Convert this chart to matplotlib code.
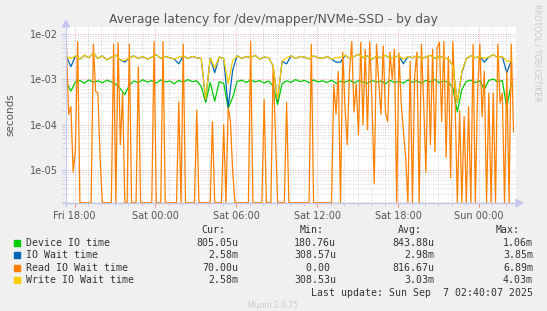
import numpy as np
import matplotlib
matplotlib.use('Agg')
import matplotlib.pyplot as plt
from matplotlib.patches import Polygon, Rectangle
from matplotlib.lines import Line2D
from matplotlib.ticker import MultipleLocator, LogLocator, FixedLocator, FixedFormatter, NullFormatter

# ---------------- data (values in milliseconds) ----------------
# 20-minute samples starting at Fri 17:24
device_io = [0.85, 0.55, 0.88, 0.95, 0.82, 0.97, 0.86, 0.93, 0.84, 0.96,
             0.88, 0.78, 0.62, 0.46, 0.75, 0.92, 0.85, 0.98, 0.87, 0.94,
             0.83, 0.97, 0.88, 0.92, 0.80, 0.95, 0.86, 0.99, 0.89, 0.93,
             0.70, 0.31, 0.85, 0.33, 0.88, 0.82, 0.23, 0.40, 0.90, 0.96,
             0.85, 0.97, 0.88, 0.94, 0.83, 0.92, 0.70, 0.28, 0.80, 0.93,
             0.86, 0.99, 0.89, 0.95, 0.84, 0.97, 0.88, 0.93, 0.85, 0.96,
             0.82, 0.91, 0.86, 0.97, 0.83, 0.94, 0.88, 0.81, 0.95, 0.87,
             0.92, 0.80, 0.96, 0.85, 0.90, 0.83, 0.97, 0.86, 0.93, 0.82,
             0.95, 0.88, 0.99, 0.84, 0.92, 0.87, 0.65, 0.19, 0.60, 0.90,
             0.96, 0.85, 0.93, 0.60, 0.95, 1.02, 0.88, 0.94, 0.24, 0.81]

io_wait = [3.2, 1.9, 3.3, 2.8, 3.4, 3.0, 3.8, 2.9, 3.3, 2.7,
           3.1, 3.4, 2.7, 2.4, 3.0, 3.3, 2.9, 3.2, 2.8, 3.1,
           3.5, 2.9, 3.2, 3.0, 2.8, 2.2, 3.3, 2.9, 3.2, 3.0,
           2.9, 0.34, 3.0, 1.4, 3.1, 2.9, 0.24, 1.6, 3.3, 2.9,
           3.2, 3.0, 3.4, 2.8, 3.1, 3.0, 2.0, 0.34, 2.5, 2.2,
           3.3, 2.9, 3.2, 3.1, 2.8, 3.3, 3.0, 2.9, 3.2, 2.8,
           2.4, 2.4, 3.4, 2.9, 3.2, 3.6, 3.0, 3.3, 2.8, 3.2,
           3.0, 3.4, 2.9, 3.1, 3.3, 2.2, 3.2, 3.0, 3.3, 2.9,
           3.1, 3.4, 2.9, 3.2, 3.0, 2.8, 2.0, 0.31, 1.4, 2.9,
           3.3, 3.0, 3.2, 2.4, 3.1, 3.5, 3.0, 3.2, 1.4, 2.6]

write_io = [3.2, 2.9, 3.3, 2.8, 3.4, 3.0, 3.8, 2.9, 3.3, 2.7,
            3.1, 3.4, 2.7, 2.6, 3.0, 3.3, 2.9, 3.2, 2.8, 3.1,
            3.5, 2.9, 3.2, 3.0, 2.8, 3.1, 3.3, 2.9, 3.2, 3.0,
            2.9, 0.36, 3.0, 1.8, 3.1, 2.9, 0.8, 2.6, 3.3, 2.9,
            3.2, 3.0, 3.4, 2.8, 3.1, 3.0, 2.0, 0.36, 2.5, 3.0,
            3.3, 2.9, 3.2, 3.1, 2.8, 3.3, 3.0, 2.9, 3.2, 2.8,
            3.0, 3.1, 3.4, 2.9, 3.2, 3.6, 3.0, 3.3, 2.8, 3.2,
            3.0, 3.4, 2.9, 3.1, 3.3, 2.8, 3.2, 3.0, 3.3, 2.9,
            3.1, 3.4, 2.9, 3.2, 3.0, 2.8, 2.0, 0.31, 1.5, 2.9,
            3.3, 3.0, 3.2, 2.9, 3.1, 3.5, 3.0, 3.2, 2.5, 2.6]

# 10-minute samples starting at Fri 17:24
read_io = [6.0, 0.17, 0.25, 0.009, 0.028, 6.8, 0, 0, 0, 0,
           0, 0, 6.0, 0.54, 0.5, 0.018, 0, 0, 0, 0,
           0, 6.0, 0, 6.5, 0.036, 0.5, 0, 0, 6.0, 0,
           0, 0, 1.9, 0, 0, 0, 0, 0, 0, 6.8,
           0, 0, 0, 6.8, 0, 0, 0, 0, 0, 0,
           0.32, 0, 6.0, 0, 0, 0, 0, 0, 0.21, 0,
           0, 0, 0, 0, 0, 0.117, 0, 0, 0, 0,
           0.1, 0, 0.24, 0.12, 0.009, 0, 0, 0, 0, 0,
           0, 0, 6.8, 0, 0, 0, 0, 0, 0.36, 0,
           0, 0, 1.9, 0.07, 0, 0, 0, 0, 0.31, 0,
           0, 0, 0, 0, 0, 0, 0, 0, 0, 6.0,
           0, 0, 0, 0, 0, 0, 0, 0, 0, 0.77,
           0.17, 1.5, 0, 4.0, 0.24, 0.036, 1.5, 6.8, 0.19, 0.8,
           0.06, 6.6, 0.1, 4.6, 0.077, 6.8, 0.32, 0.005, 6.0, 0.9,
           0.17, 5.5, 0.18, 0.117, 4.0, 1.0, 4.6, 0, 3.8, 0.3,
           0.07, 0.019, 0, 2.5, 0, 1.2, 4.0, 0, 6.0, 0.3,
           0.009, 3.2, 0.036, 4.6, 0.025, 5.0, 6.6, 0.117, 6.8, 0.019,
           3.2, 0.0067, 6.8, 0.3, 0, 0.2, 0, 0.15, 0, 0.25,
           0, 6.0, 0, 0.5, 6.0, 0.15, 1.5, 0, 0.5, 0,
           0.5, 0, 6.0, 0.3, 0.5, 0, 1.5, 0, 6.0, 0.07]

series_names = ["Device IO time", "IO Wait time", "Read IO Wait time", "Write IO Wait time"]
series_colors = ["#00CC00", "#0066B3", "#FF8000", "#FFCC00"]
cur_vals = ["805.05u", "2.58m", "70.00u", "2.58m"]
min_vals = ["180.76u", "308.57u", "0.00 ", "308.53u"]
avg_vals = ["843.88u", "2.98m", "816.67u", "3.03m"]
max_vals = ["1.06m", "3.85m", "6.89m", "4.03m"]

x_tick_hours = [0, 6, 12, 18, 24, 30]
x_tick_labels = ["Fri 18:00", "Sat 00:00", "Sat 06:00", "Sat 12:00", "Sat 18:00", "Sun 00:00"]
y_tick_values = [1e-5, 1e-4, 1e-3, 1e-2]
y_tick_labels = ["1e-05", "1e-04", "1e-03", "1e-02"]

# ---------------- figure ----------------
W, H = 547, 311
fig = plt.figure(figsize=(W / 100, H / 100), dpi=100, facecolor='#F0F0F0')

def fx(x):
    return x / W

def fy(y):
    return 1 - y / H

L, R, T, B = 65, 516, 27, 203
ax = fig.add_axes([fx(L), fy(B), (R - L) / W, (B - T) / H])
ax.set_facecolor('white')
ax.set_yscale('log')
ymin, ymax = 1.87e-6, 0.0143
ax.set_ylim(ymin, ymax)
ax.set_xlim(-0.705, 32.75)

t_flat = -0.6 + np.arange(len(write_io)) / 3.0
t_read = -0.6 + np.arange(len(read_io)) / 6.0
floor = ymin * 1.02

def sec(v):
    return np.maximum(np.asarray(v, dtype=float) * 1e-3, floor)

lw = 0.9
ax.plot(t_flat, sec(device_io), color=series_colors[0], lw=lw, zorder=3)
ax.plot(t_flat, sec(io_wait), color=series_colors[1], lw=lw, zorder=4)
ax.plot(t_read, sec(read_io), color=series_colors[2], lw=lw, zorder=5)
ax.plot(t_flat, sec(write_io), color=series_colors[3], lw=lw, zorder=6)

# grid
ax.xaxis.set_major_locator(FixedLocator(x_tick_hours))
ax.xaxis.set_major_formatter(FixedFormatter(x_tick_labels))
ax.xaxis.set_minor_locator(MultipleLocator(1))
ax.yaxis.set_major_locator(FixedLocator(y_tick_values))
ax.yaxis.set_major_formatter(FixedFormatter(y_tick_labels))
ax.yaxis.set_minor_locator(LogLocator(base=10, subs=np.arange(2, 10)))
ax.yaxis.set_minor_formatter(NullFormatter())
ax.grid(which='minor', color='#C8C8C8', linestyle=(0, (1, 2)), lw=0.6)
ax.grid(which='major', color='#F09090', linestyle=(0, (1, 2)), lw=0.6)
ax.set_axisbelow(True)

for s in ax.spines.values():
    s.set_visible(False)
ax.tick_params(axis='both', which='both', labelsize=7, labelcolor='#555555', colors='#C4C8EC')
ax.tick_params(axis='x', which='major', length=3, color='#F09090', pad=3)
ax.tick_params(axis='x', which='minor', length=2)
ax.tick_params(axis='y', which='major', length=3, pad=2)
ax.tick_params(axis='y', which='minor', length=2)
for lab in ax.get_xticklabels() + ax.get_yticklabels():
    lab.set_color('#555555')

# axis lines with arrows
axis_col = '#C4C8EC'
fig.add_artist(Line2D([fx(63), fx(517)], [fy(B), fy(B)], color=axis_col, lw=1, transform=fig.transFigure))
fig.add_artist(Line2D([fx(66), fx(66)], [fy(206), fy(23)], color=axis_col, lw=1, transform=fig.transFigure))
fig.add_artist(Polygon([[fx(516), fy(B - 3.5)], [fx(523), fy(B)], [fx(516), fy(B + 3.5)]],
                       closed=True, color=axis_col, transform=fig.transFigure))
fig.add_artist(Polygon([[fx(62.5), fy(27)], [fx(66), fy(20)], [fx(69.5), fy(27)]],
                       closed=True, color=axis_col, transform=fig.transFigure))

# title and labels
fig.text(fx(273.5), fy(19), "Average latency for /dev/mapper/NVMe-SSD - by day",
         ha='center', va='center', fontsize=8.9, color='#555555')
fig.text(fx(10), fy(115), "seconds", rotation=90, ha='center', va='center', fontsize=7.5, color='#555555')
fig.text(fx(537), fy(4), "RRDTOOL / TOBI OETIKER", rotation=270, ha='center', va='top',
         fontsize=5.5, color='#C8C8C8')

# legend
mono = 'DejaVu Sans Mono'
fs = 7.1
tc = '#333333'
header_y = 230
for txt, xr in zip(["Cur:", "Min:", "Avg:", "Max:"], [225.7, 324, 422, 520]):
    fig.text(fx(xr), fy(header_y), txt, ha='right', va='center', family=mono, fontsize=fs, color=tc)
row_ys = [243, 255.3, 267.7, 280]
for k in range(4):
    yy = row_ys[k]
    fig.add_artist(Rectangle((fx(14), fy(yy + 3)), 6 / W, 6 / H, color=series_colors[k],
                             transform=fig.transFigure))
    fig.text(fx(26), fy(yy), series_names[k], ha='left', va='center', family=mono, fontsize=fs, color=tc)
    for vals, xr in zip([cur_vals, min_vals, avg_vals, max_vals], [238, 336, 434, 533]):
        fig.text(fx(xr), fy(yy), vals[k], ha='right', va='center', family=mono, fontsize=fs, color=tc)
fig.text(fx(533), fy(292.7), "Last update: Sun Sep  7 02:40:07 2025", ha='right', va='center',
         family=mono, fontsize=fs, color=tc)
fig.text(fx(273.5), fy(305.5), "Munin 2.0.75", ha='center', va='center', fontsize=5.5, color='#C8C8C8')

fig.savefig('out.png', dpi=100, facecolor=fig.get_facecolor())
